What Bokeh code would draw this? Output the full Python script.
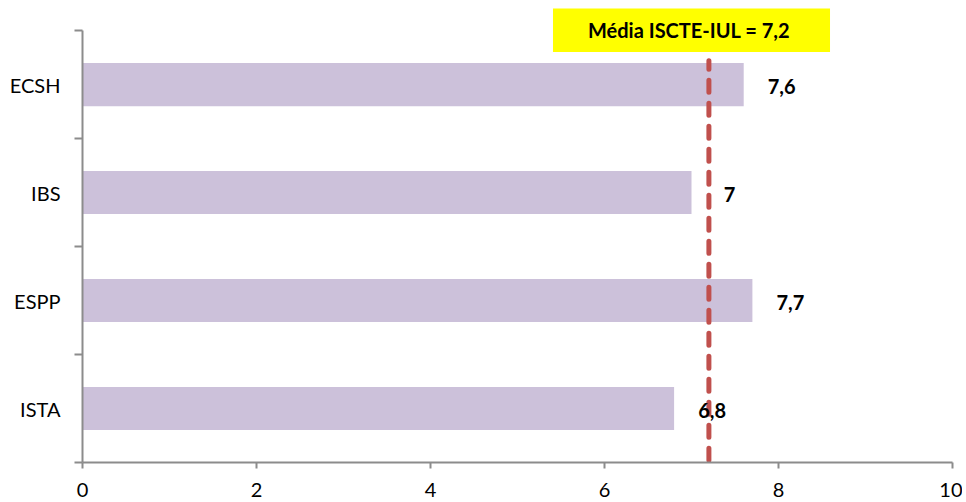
from bokeh.plotting import figure
from bokeh.models import ColumnDataSource, FixedTicker, Label, Range1d
from bokeh.core.properties import value
from bokeh.embed import file_html
from bokeh.resources import INLINE

categories = ["ECSH", "IBS", "ESPP", "ISTA"]
values = [7.6, 7.0, 7.7, 6.8]
value_labels = ["7,6", "7", "7,7", "6,8"]
mean_value = 7.2
mean_text = "Média ISCTE-IUL =  7,2"
x_ticks = [0, 2, 4, 6, 8, 10]

n = len(categories)
ycent = [n - i - 0.5 for i in range(n)]

src = ColumnDataSource(dict(cat=categories, val=values, lab=value_labels, y=ycent))

FONT = "Lato"

p = figure(width=962, height=500, output_backend="svg", toolbar_location=None,
           x_range=Range1d(0, 10), y_range=Range1d(0, 4.204),
           min_border_left=82, min_border_right=10, min_border_top=8, min_border_bottom=38)
p.outline_line_color = None
p.xgrid.visible = False
p.ygrid.visible = False

p.hbar(y="y", right="val", left=0, height=0.4, source=src,
       fill_color="#CCC1DA", line_color=None)

p.segment(x0=mean_value, x1=mean_value, y0=0.02, y1=3.72,
          line_color="#C0504D", line_width=5, line_dash="12 11", line_cap="round")

p.text(x="val", y="y", text="lab", source=src, x_offset=38, y_offset=2,
       text_align="center", text_baseline="middle",
       text_font=value(FONT), text_font_style="bold", text_font_size="20px",
       text_color="black")

lbl = Label(x=7.0, y=4.005, text=mean_text, text_align="center", text_baseline="middle",
            text_font=FONT, text_font_style="bold", text_font_size="20px",
            text_color="black", background_fill_color="#FFFF00",
            padding=dict(left=35, right=35, top=10, bottom=10))
p.add_layout(lbl)

ax_color = "#8C8C8C"
xa = p.xaxis[0]
xa.ticker = FixedTicker(ticks=x_ticks, minor_ticks=[])
xa.axis_line_color = ax_color
xa.axis_line_width = 2
xa.major_tick_line_color = ax_color
xa.major_tick_line_width = 2
xa.major_tick_out = 6
xa.major_tick_in = 0
xa.minor_tick_line_color = None
xa.major_label_text_font = FONT
xa.major_label_text_font_size = "20px"
xa.major_label_text_color = "black"
xa.major_label_standoff = 14

ya = p.yaxis[0]
ya.bounds = (0, n)
ya.ticker = FixedTicker(ticks=ycent, minor_ticks=list(range(n + 1)))
ya.major_label_overrides = {y: c for y, c in zip(ycent, categories)}
ya.axis_line_color = ax_color
ya.axis_line_width = 2
ya.major_tick_line_color = None
ya.minor_tick_line_color = ax_color
ya.minor_tick_line_width = 2
ya.minor_tick_out = 8
ya.minor_tick_in = 0
ya.major_label_text_font = FONT
ya.major_label_text_font_size = "20px"
ya.major_label_text_color = "black"
ya.major_label_standoff = 14

open("out.html", "w").write(file_html(p, INLINE))
